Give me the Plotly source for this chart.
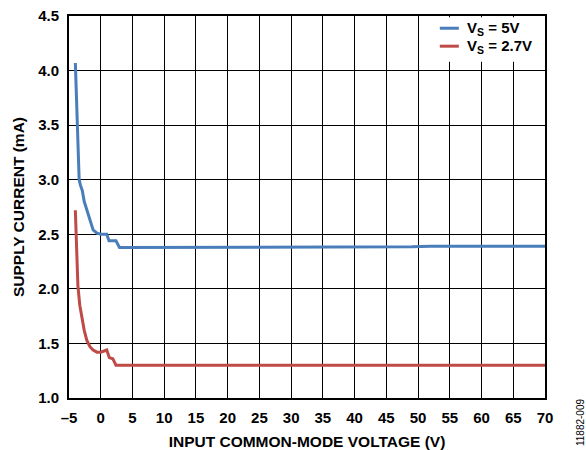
import plotly.graph_objects as go

# Data
x_5v = [-4.0, -3.8, -3.6, -3.4, -3.2, -2.9, -2.6, -2.2, -1.7, -1.2, -0.6, 0.0, 0.5, 0.95, 1.3, 1.8, 2.4, 2.95, 4, 10, 20, 30, 40, 47, 49, 52, 55, 60, 65, 70]
y_5v = [4.07, 3.75, 3.30, 3.00, 2.95, 2.90, 2.80, 2.72, 2.62, 2.54, 2.51, 2.50, 2.50, 2.50, 2.44, 2.44, 2.44, 2.38, 2.38, 2.38, 2.38, 2.38, 2.38, 2.38, 2.385, 2.39, 2.39, 2.39, 2.39, 2.39]

x_27v = [-4.0, -3.8, -3.6, -3.3, -3.1, -2.6, -2.2, -1.7, -1.2, -0.6, 0.0, 0.5, 0.95, 1.35, 1.9, 2.4, 3, 10, 20, 30, 40, 50, 60, 70]
y_27v = [2.72, 2.40, 2.03, 1.85, 1.78, 1.62, 1.53, 1.47, 1.44, 1.42, 1.42, 1.43, 1.44, 1.37, 1.36, 1.30, 1.30, 1.30, 1.30, 1.30, 1.30, 1.30, 1.30, 1.30]

x_ticks = list(range(-5, 71, 5))
x_tick_labels = ["–5"] + [str(v) for v in x_ticks[1:]]
y_ticks = [1.0, 1.5, 2.0, 2.5, 3.0, 3.5, 4.0, 4.5]

series_names = ["V<sub>S</sub> = 5V", "V<sub>S</sub> = 2.7V"]
x_title = "INPUT COMMON-MODE VOLTAGE (V)"
y_title = "SUPPLY CURRENT (mA)"
figure_id = "11882-009"

BLUE = "#4A7EBB"
RED = "#BE4B48"
FONT = "Liberation Sans, Arial, sans-serif"
colors = [BLUE, RED]

fig = go.Figure()
fig.add_trace(go.Scatter(x=x_5v, y=y_5v, mode="lines", name=series_names[0],
                         line=dict(color=BLUE, width=3), showlegend=False))
fig.add_trace(go.Scatter(x=x_27v, y=y_27v, mode="lines", name=series_names[1],
                         line=dict(color=RED, width=3), showlegend=False))

axis_font = dict(family=FONT, size=15, color="black", weight="bold")
fig.update_layout(
    width=586, height=450,
    margin=dict(l=69, r=41, t=16, b=52),
    plot_bgcolor="white", paper_bgcolor="white",
    font=dict(family=FONT, size=15, color="black"),
    showlegend=False,
    xaxis=dict(range=[-5, 70], tickmode="array", tickvals=x_ticks, ticktext=x_tick_labels,
               showgrid=True, gridcolor="black", gridwidth=1,
               showline=True, linecolor="black", linewidth=2, mirror=True,
               ticks="", zeroline=False, ticklabelstandoff=5, automargin=False,
               tickfont=axis_font,
               title=dict(text=x_title, standoff=12,
                          font=dict(family=FONT, size=15.5, color="black", weight="bold"))),
    yaxis=dict(range=[1.0, 4.5], tickmode="array", tickvals=y_ticks, tickformat=".1f",
               showgrid=True, gridcolor="black", gridwidth=1,
               showline=True, linecolor="black", linewidth=2, mirror=True,
               ticks="", zeroline=False, ticklabelstandoff=5, automargin=False,
               tickfont=axis_font,
               title=dict(text=y_title, standoff=10,
                          font=dict(family=FONT, size=15.5, color="black", weight="bold"))),
)

# Legend box (white background hiding gridlines) and entries
fig.add_shape(type="rect", xref="paper", yref="paper", x0=0.754, x1=0.998, y0=0.88, y1=0.997,
              fillcolor="white", line=dict(width=0), layer="above")
legend_y = [0.968, 0.921]
for name, col, ly in zip(series_names, colors, legend_y):
    fig.add_shape(type="line", xref="paper", yref="paper", x0=0.779, x1=0.819, y0=ly, y1=ly,
                  line=dict(color=col, width=3), layer="above")
    fig.add_annotation(text=name, xref="paper", yref="paper", x=0.832, y=ly,
                       xanchor="left", yanchor="middle", showarrow=False,
                       font=dict(family=FONT, size=15, color="black", weight="bold"))

fig.add_annotation(text=figure_id, xref="paper", yref="paper",
                   x=1.0735, y=-0.063, textangle=-90, showarrow=False,
                   xanchor="center", yanchor="middle",
                   font=dict(family=FONT, size=10, color="black"))

fig.write_html("out.html", config={"displayModeBar": False},
               post_script="document.body.style.margin='0px';")
